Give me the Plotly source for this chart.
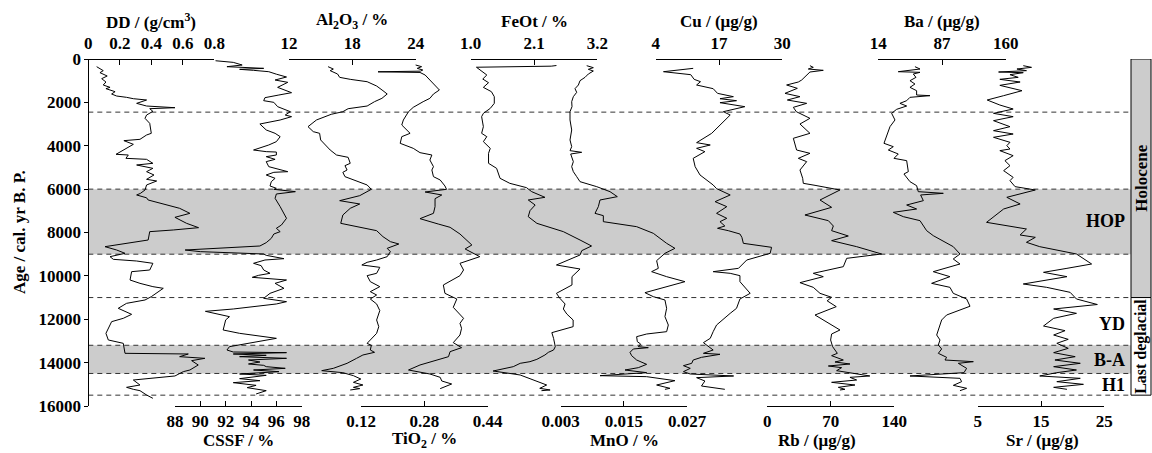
import plotly.graph_objects as go

# ---------------- data (age in cal. yr B.P., values in axis units) ----------------
dd_age = [354, 538, 630, 784, 907, 1061, 1199, 1307, 1368, 1507, 1614, 1707, 1768, 1830, 1891, 2045, 2168, 2245,
          2291, 2414, 2583, 2735, 2966, 3427, 3504, 3704, 3765, 3934, 4395, 4426, 4580, 4626, 4810, 4887, 5041,
          5195, 5348, 5548, 5625, 5809, 6040, 6200, 6270, 6400, 6501, 6732, 6885, 7116, 7300, 7577, 7777, 7884,
          7961, 8346, 8499, 8653, 8807, 8960, 9114, 9237, 9314, 9421, 9729, 9806, 10190, 10344, 10497, 10574,
          10959, 11112, 11266, 11496, 11773, 11957, 12111, 12649, 12956, 13110, 13571, 13602, 13725, 13756,
          13802, 13909, 14109, 14340, 14417, 14616, 14678, 14755, 14801, 15032, 15139, 15231, 15293, 15493, 15646]
dd_val = [0.053, 0.095, 0.074, 0.12, 0.085, 0.112, 0.095, 0.138, 0.112, 0.17, 0.148, 0.18, 0.243, 0.286, 0.37,
          0.307, 0.37, 0.55, 0.39, 0.41, 0.37, 0.36, 0.39, 0.40, 0.37, 0.328, 0.226, 0.286, 0.176, 0.254, 0.239,
          0.37, 0.41, 0.307, 0.41, 0.37, 0.417, 0.37, 0.434, 0.37, 0.36, 0.33, 0.307, 0.37, 0.38, 0.50, 0.58,
          0.645, 0.55, 0.624, 0.70, 0.54, 0.39, 0.38, 0.243, 0.106, 0.18, 0.233, 0.138, 0.159, 0.307, 0.41, 0.39,
          0.275, 0.265, 0.328, 0.41, 0.476, 0.40, 0.36, 0.243, 0.19, 0.275, 0.222, 0.148, 0.112, 0.127, 0.222,
          0.233, 0.635, 0.58, 0.667, 0.74, 0.656, 0.698, 0.645, 0.603, 0.55, 0.455, 0.328, 0.286, 0.328, 0.243,
          0.286, 0.328, 0.37, 0.41]

cssf_age = [80, 155, 277, 354, 431, 477, 523, 585, 700, 780, 830, 969, 1076, 1307, 1553, 1660, 1783, 1922, 1999,
            2198, 2429, 2583, 2659, 2812, 2997, 3273, 3427, 3581, 3811, 3965, 4196, 4272, 4290, 4426, 4503, 4626,
            4733, 4964, 5118, 5195, 5225, 5348, 5502, 5656, 5855, 5963, 6009, 6117, 6224, 6424, 6808, 7346, 7654,
            7807, 7961, 8069, 8269, 8468, 8622, 8807, 8883, 8960, 8991, 9053, 9206, 9268, 9421, 9529, 9729, 9882,
            9975, 10067, 10190, 10344, 10574, 10805, 11035, 11189, 11296, 11527, 11635, 11881, 12030, 12495, 12649,
            12880, 13264, 13418, 13510, 13540, 13602, 13663, 13725, 13802, 13879, 13971, 14063, 14125, 14186,
            14263, 14340, 14417, 14524, 14586, 14739, 14832, 14924, 15047, 15154, 15293, 15446]
cssf_val = [91.2, 92.6, 93.3, 92.1, 95.0, 93.1, 94.2, 95.4, 96.0, 96.5, 96.8, 95.9, 96.9, 96.1, 97.2, 96.2, 95.1,
            95.0, 95.8, 96.1, 97.1, 96.7, 97.2, 96.3, 94.7, 95.2, 95.9, 96.3, 96.0, 95.4, 94.2, 95.2, 96.0, 96.0,
            95.2, 95.9, 95.2, 95.4, 96.3, 96.9, 95.8, 95.2, 95.9, 95.6, 95.5, 96.0, 95.8, 97.5, 96.0, 95.9, 96.3,
            96.8, 96.4, 96.0, 96.3, 95.8, 95.6, 95.2, 94.7, 88.8, 90.0, 93.1, 95.0, 95.2, 96.6, 95.1, 94.2, 94.8,
            95.0, 95.5, 94.6, 94.1, 96.8, 95.9, 96.6, 95.5, 95.0, 96.8, 96.0, 92.6, 90.4, 92.3, 92.0, 91.8, 93.1,
            96.0, 92.3, 92.1, 92.6, 96.8, 92.6, 95.2, 93.1, 96.8, 93.8, 94.7, 93.8, 95.0, 95.2, 96.7, 94.2, 96.2,
            93.1, 95.2, 93.1, 94.7, 92.6, 94.4, 93.7, 95.2, 94.4]

al2o3_age = [354, 462, 538, 692, 846, 938, 1046, 1245, 1461, 1614, 1814, 1968, 2168, 2291, 2429, 2550, 2812, 3120,
             3350, 3427, 3734, 4196, 4426, 4534, 4810, 4918, 5118, 5225, 5425, 5579, 5809, 6009, 6163, 6301, 6532,
             6685, 6885, 7193, 7577, 7761, 7915, 8192, 8422, 8530, 8730, 8883, 9114, 9268, 9375, 9498, 9606, 9882,
             9990, 10267, 10497, 10728, 10882, 11066, 11296, 11600, 12034, 12342, 12649, 12956, 13110, 13202, 13418,
             13525, 13648, 13802, 14032, 14263, 14371, 14463, 14601, 14755, 14909, 15032, 15139, 15200, 15262]
al2o3_val = [15.7, 16.2, 15.9, 16.6, 16.8, 17.8, 19.4, 20.3, 20.9, 21.3, 20.8, 20.1, 19.4, 17.6, 17.1, 16.0, 14.6,
             13.8, 14.3, 14.9, 15.0, 15.9, 16.5, 17.6, 17.8, 17.3, 17.5, 17.1, 17.3, 18.1, 19.4, 19.8, 19.2, 18.7,
             16.8, 18.7, 17.8, 17.1, 16.9, 18.7, 20.3, 20.9, 21.6, 22.4, 21.3, 21.6, 21.3, 20.3, 19.4, 18.9, 20.6,
             20.3, 19.4, 19.7, 20.6, 19.7, 20.3, 19.7, 20.3, 20.6, 20.3, 20.5, 20.3, 19.7, 19.4, 19.8, 19.7, 20.1,
             19.0, 18.4, 17.5, 16.2, 15.1, 17.1, 18.1, 18.8, 18.1, 19.0, 18.1, 18.7, 17.8]

tio2_age = [277, 354, 431, 508, 560, 590, 620, 738, 969, 1199, 1430, 1614, 1814, 1968, 2122, 2229, 2429, 2812, 3043,
            3273, 3427, 3581, 3888, 4119, 4318, 4426, 4657, 4964, 5118, 5425, 5579, 5855, 6009, 6132, 6270, 6440,
            6808, 7116, 7362, 7608, 7761, 8069, 8576, 8760, 9114, 9421, 9729, 9990, 10420, 10805, 11066, 11450,
            11957, 12188, 12418, 12726, 13079, 13310, 13494, 13725, 13956, 14109, 14340, 14524, 14678, 14847,
            14985, 15200]
tio2_val = [0.258, 0.273, 0.262, 0.276, 0.27, 0.163, 0.269, 0.282, 0.294, 0.307, 0.318, 0.303, 0.294, 0.277, 0.261,
            0.252, 0.24, 0.227, 0.223, 0.235, 0.244, 0.223, 0.219, 0.252, 0.269, 0.299, 0.294, 0.303, 0.299, 0.303,
            0.32, 0.332, 0.336, 0.282, 0.324, 0.307, 0.307, 0.303, 0.269, 0.315, 0.345, 0.37, 0.40, 0.383, 0.42,
            0.37, 0.379, 0.37, 0.328, 0.332, 0.362, 0.353, 0.379, 0.37, 0.374, 0.37, 0.353, 0.374, 0.345, 0.341,
            0.294, 0.269, 0.24, 0.294, 0.32, 0.324, 0.349, 0.32]

feot_age = [300, 330, 380, 540, 738, 923, 1092, 1307, 1507, 1737, 2045, 2276, 2506, 2659, 3120, 3427, 3581, 3811,
            4119, 4349, 4810, 5041, 5502, 5733, 5932, 6117, 6378, 6501, 6732, 6993, 7270, 7577, 7961, 8346, 8622,
            8837, 9037, 9498, 9683, 10036, 10420, 10805, 11035, 11296, 11527, 11758, 12034, 12342, 12618, 12880,
            13264, 13418, 13525, 13648, 13848, 13956, 14032, 14186, 14340, 14386, 14570, 14801, 15032, 15185,
            15262, 15293]
feot_val = [2.49, 2.40, 1.10, 1.19, 1.28, 1.21, 1.31, 1.22, 1.36, 1.41, 1.41, 1.34, 1.22, 1.19, 1.22, 1.19, 1.28,
            1.22, 1.34, 1.31, 1.31, 1.45, 1.51, 1.68, 1.97, 2.06, 2.29, 2.00, 2.12, 2.03, 2.00, 2.15, 2.61, 2.90,
            3.10, 2.93, 2.90, 2.49, 2.90, 2.76, 2.76, 2.49, 2.55, 2.64, 2.61, 2.67, 2.78, 2.78, 2.41, 2.44, 2.47,
            2.44, 2.35, 2.29, 2.15, 2.03, 1.86, 1.74, 1.45, 1.39, 1.86, 2.09, 2.32, 2.20, 2.38, 2.23]

mno_age = [308, 400, 477, 554, 692, 846, 1000, 1199, 1368, 1537, 1737, 1968, 2198, 2429, 2812, 3273, 3734, 4042,
           4226, 4303, 4380, 4733, 4964, 5195, 5425, 5656, 5886, 6117, 6347, 6501, 6808, 7116, 7223, 7500, 7731,
           8038, 8499, 8730, 8960, 9298, 9652, 9806, 10036, 10267, 10774, 10959, 11112, 11496, 11880, 12265, 12572,
           12680, 12803, 13033, 13141, 13264, 13310, 13371, 13525, 13679, 13879, 14079, 14232, 14340, 14463, 14601,
           14647, 14832, 15032, 15185, 15231]
mno_val = [0.00794, 0.0092, 0.00825, 0.0092, 0.00825, 0.00762, 0.00667, 0.00636, 0.00572, 0.00604, 0.0054, 0.00509,
           0.00515, 0.00477, 0.00477, 0.00509, 0.00477, 0.00509, 0.00477, 0.00699, 0.0049, 0.0054, 0.00509, 0.0054,
           0.00604, 0.00667, 0.00984, 0.01237, 0.01376, 0.01047, 0.01015, 0.00952, 0.0111, 0.0111, 0.01743, 0.0206,
           0.02313, 0.02471, 0.02281, 0.02123, 0.02155, 0.02028, 0.02313, 0.02661, 0.01901, 0.0206, 0.02281,
           0.02313, 0.02281, 0.02345, 0.02313, 0.01933, 0.01743, 0.01756, 0.01819, 0.01775, 0.01965, 0.0168,
           0.01617, 0.01648, 0.01743, 0.01933, 0.01775, 0.01522, 0.01933, 0.01047, 0.01933, 0.02471, 0.02123,
           0.02376, 0.02281]

cu_age = [431, 585, 723, 938, 1046, 1199, 1368, 1584, 1737, 1830, 1922, 2014, 2198, 2429, 2583, 3043, 3427, 3857,
          3965, 4119, 4272, 4580, 4964, 5348, 5809, 5978, 6270, 6578, 6808, 7116, 7346, 7500, 7700, 7807, 7915,
          8069, 8223, 8499, 8684, 8960, 9268, 9652, 9806, 9882, 9990, 10267, 10805, 11066, 11496, 11727, 12034,
          12265, 12572, 12880, 13079, 13341, 13418, 13571, 13617, 13756, 13879, 14032, 14140, 14263, 14417, 14524,
          14616, 14693, 14847, 15078, 15231]
cu_val = [11.7, 5.6, 11.2, 11.9, 13.2, 12.4, 15.8, 16.7, 19.95, 17.2, 20.6, 17.2, 22.3, 17.9, 19.3, 17.2, 15.5, 12.4,
          15.2, 12.4, 14.1, 11.7, 12.1, 13.1, 15.8, 16.5, 19.3, 16.2, 18.6, 16.5, 18.6, 17.2, 18.2, 16.7, 18.9, 21.3,
          21.7, 22.0, 27.8, 27.5, 22.7, 21.0, 15.8, 19.3, 21.3, 21.3, 23.4, 21.3, 20.6, 19.3, 17.6, 16.5, 15.8, 15.2,
          13.8, 15.2, 15.8, 13.8, 17.2, 13.4, 11.7, 11.4, 9.7, 11.1, 9.7, 11.1, 20.0, 12.4, 14.1, 13.4, 18.2]

rb_age = [308, 385, 462, 523, 600, 754, 969, 1061, 1199, 1353, 1584, 1737, 1891, 2045, 2229, 2430, 2735, 2997, 3427,
          3657, 4196, 4349, 4580, 4733, 5118, 5502, 5733, 5825, 6040, 6501, 6839, 7193, 7454, 7700, 7915, 8161,
          8376, 8653, 8991, 9191, 9575, 9882, 10036, 10313, 10528, 10805, 10989, 11150, 11420, 11804, 12065, 12495,
          12680, 12956, 13264, 13571, 13679, 13879, 13971, 14063, 14155, 14232, 14371, 14616, 14678, 14801, 14909,
          15032, 15139, 15231, 15262]
rb_val = [47.0, 50.7, 45.2, 61.7, 47.0, 43.4, 37.9, 34.2, 21.3, 33.1, 19.5, 36.0, 22.1, 43.4, 28.7, 32.0, 47.0, 36.0,
          47.0, 28.7, 32.3, 47.0, 34.2, 43.4, 36.0, 39.0, 39.7, 52.6, 80.1, 58.1, 70.9, 41.5, 67.3, 72.8, 70.9, 89.3,
          70.9, 98.5, 126.0, 87.5, 83.8, 50.7, 61.7, 36.0, 50.7, 58.1, 70.9, 66.0, 76.0, 52.6, 63.6, 80.1, 70.9,
          69.8, 72.0, 77.2, 70.9, 83.8, 74.6, 91.1, 67.3, 81.9, 76.4, 113.0, 91.1, 98.5, 70.9, 96.6, 78.3, 85.6,
          80.1]

ba_age = [354, 462, 585, 615, 692, 846, 1000, 1153, 1307, 1461, 1660, 1691, 1768, 1922, 2045, 2168, 2321, 2505, 2812,
          3120, 3888, 4042, 4196, 4380, 4580, 4687, 5195, 5302, 5656, 5840, 6117, 6194, 6270, 6532, 6732, 6916, 7070,
          7270, 7454, 7915, 8146, 8653, 8991, 9221, 9452, 9806, 10036, 10344, 10528, 10805, 11066, 11400, 11573,
          11804, 12034, 12265, 12495, 12726, 12956, 13187, 13371, 13571, 13756, 13879, 13956, 14032, 14263, 14463,
          14616, 14724, 14878, 15047, 15185, 15293]
ba_val = [56.0, 61.8, 36.9, 61.8, 54.1, 57.2, 50.3, 56.0, 50.3, 57.9, 57.9, 73.2, 50.3, 46.5, 38.8, 46.5, 35.0, 29.3,
          33.1, 27.4, 20.5, 31.2, 25.5, 36.9, 32.0, 46.5, 48.4, 43.4, 50.3, 57.9, 59.8, 88.5, 62.5, 65.6, 46.5, 57.9,
          31.2, 42.7, 61.8, 69.4, 77.0, 99.9, 107.6, 99.9, 107.6, 77.0, 96.1, 75.1, 96.1, 99.9, 115.2, 119.1,
          107.6, 92.3, 86.6, 84.7, 82.8, 80.9, 84.7, 82.8, 86.6, 82.8, 92.3, 90.4, 122.9, 105.7, 115.2, 112.2,
          50.3, 107.6, 109.5, 100.0, 115.2, 107.6]

sr_age = [308, 385, 462, 538, 600, 630, 723, 846, 938, 1061, 1215, 1307, 1461, 1691, 1891, 2122, 2306, 2506, 2659,
          2843, 3120, 3304, 3458, 3611, 3842, 3996, 4150, 4226, 4457, 4687, 4918, 5149, 5456, 5610, 5886, 6040, 6378,
          6685, 6916, 7531, 7761, 7838, 8115, 8223, 8453, 8653, 8991, 9452, 9652, 9836, 10036, 10374, 10528, 10605,
          10759, 11066, 11320, 11527, 11727, 11957, 12311, 12526, 12726, 12926, 13110, 13341, 13540, 13725, 13879,
          14032, 14186, 14340, 14463, 14616, 14724, 14878, 15001, 15139, 15231]
sr_val = [12.2, 13.5, 11.2, 12.7, 8.3, 12.2, 10.1, 11.4, 8.5, 11.7, 8.5, 9.8, 12.0, 9.1, 6.5, 8.5, 10.6, 7.5, 10.6,
          7.5, 10.1, 7.5, 10.6, 7.5, 10.1, 9.6, 10.1, 8.5, 10.6, 9.3, 10.1, 9.1, 10.6, 10.1, 10.9, 14.1, 9.6, 11.7,
          9.1, 6.4, 10.9, 12.7, 11.7, 14.1, 12.7, 14.8, 20.6, 23.0, 19.1, 15.4, 19.1, 12.2, 15.9, 17.0, 19.6, 20.6,
          23.9, 17.0, 20.6, 17.0, 15.4, 18.8, 17.0, 19.3, 17.5, 19.3, 17.0, 20.4, 17.2, 21.2, 17.0, 20.6, 17.5,
          14.8, 21.2, 17.5, 21.7, 17.0, 19.1]

# tick labels of each axis
dd_ticks = ["0", "0.2", "0.4", "0.6", "0.8"]
cssf_ticks = ["88", "90", "92", "94", "96", "98"]
al2o3_ticks = ["12", "18", "24"]
tio2_ticks = ["0.12", "0.28", "0.44"]
feot_ticks = ["1.0", "2.1", "3.2"]
mno_ticks = ["0.003", "0.015", "0.027"]
cu_ticks = ["4", "17", "30"]
rb_ticks = ["0", "70", "140"]
ba_ticks = ["14", "87", "160"]
sr_ticks = ["5", "15", "25"]
age_ticks = [0, 2000, 4000, 6000, 8000, 10000, 12000, 14000, 16000]

# periods
shaded_periods = [(6000, 9000), (13200, 14500)]
boundary_ages = [2450, 6000, 9000, 11000, 13200, 14500, 15500]
period_labels = [("HOP", 7450), ("YD", 12200), ("B-A", 13880), ("H1", 15050)]
epochs = [("Holocene", 0, 11000, "#cccccc"), ("Last deglacial", 11000, 15500, "white")]

# ---------------- layout (pixel geometry) ----------------
W, H = 1152, 453
Y_TOP, Y_BOT = 59, 406
X_LEFT, X_RIGHT = 88.3, 1131
FONT = "Liberation Serif"


def fx(p):
    return p / W


def fy(p):
    return 1 - p / H


def b(s):
    return "<b>" + s + "</b>"


panels = [
    dict(age=dd_age, val=dd_val, ticks=dd_ticks, px=(88.3, 214.3), side="top",
         title="DD / (g/cm<sup>3</sup>)", tx=151),
    dict(age=cssf_age, val=cssf_val, ticks=cssf_ticks, px=(175, 301.7), side="bottom",
         title="CSSF / %", tx=238),
    dict(age=al2o3_age, val=al2o3_val, ticks=al2o3_ticks, px=(289, 415.7), side="top",
         title="Al<sub>2</sub>O<sub>3</sub> / %", tx=352),
    dict(age=tio2_age, val=tio2_val, ticks=tio2_ticks, px=(361, 487.7), side="bottom",
         title="TiO<sub>2</sub> / %", tx=424),
    dict(age=feot_age, val=feot_val, ticks=feot_ticks, px=(470.7, 597.3), side="top",
         title="FeOt / %", tx=534),
    dict(age=mno_age, val=mno_val, ticks=mno_ticks, px=(560.7, 687), side="bottom",
         title="MnO / %", tx=624),
    dict(age=cu_age, val=cu_val, ticks=cu_ticks, px=(655.7, 782.3), side="top",
         title="Cu / (μg/g)", tx=719),
    dict(age=rb_age, val=rb_val, ticks=rb_ticks, px=(767.3, 894.3), side="bottom",
         title="Rb / (μg/g)", tx=817),
    dict(age=ba_age, val=ba_val, ticks=ba_ticks, px=(878.3, 1005.7), side="top",
         title="Ba / (μg/g)", tx=942),
    dict(age=sr_age, val=sr_val, ticks=sr_ticks, px=(977.7, 1104.3), side="bottom",
         title="Sr / (μg/g)", tx=1042),
]

tickfont = dict(family=FONT, size=17, color="black")
fig = go.Figure()
axes = {}
annotations = []

for i, p in enumerate(panels, start=1):
    xa = "x" if i == 1 else f"x{i}"
    fig.add_trace(go.Scatter(x=p["val"], y=p["age"], mode="lines", xaxis=xa, yaxis="y",
                             line=dict(color="black", width=1), showlegend=False, hoverinfo="skip"))
    tv = [float(t) for t in p["ticks"]]
    top = p["side"] == "top"
    axes["xaxis" if i == 1 else f"xaxis{i}"] = dict(
        domain=[fx(p["px"][0]), fx(p["px"][1])], range=[tv[0], tv[-1]],
        anchor="free", position=fy(Y_TOP) if top else fy(Y_BOT), side=p["side"],
        showline=True, linecolor="black", linewidth=1, mirror=False, automargin=False,
        ticks="inside", ticklen=5, tickwidth=1, tickcolor="black",
        tickvals=tv, ticktext=[b(t) for t in p["ticks"]], tickfont=tickfont,
        ticklabelstandoff=3 if top else 0,
        showgrid=False, zeroline=False, fixedrange=True)
    annotations.append(dict(x=fx(p["tx"]), y=fy(21) if top else fy(440), xref="paper", yref="paper",
                            text=b(p["title"]), showarrow=False, xanchor="center", yanchor="middle",
                            font=dict(family=FONT, size=17, color="black")))

axes["yaxis"] = dict(domain=[fy(Y_BOT), fy(Y_TOP)], range=[16000, 0], anchor="free", position=fx(X_LEFT),
                     side="left", showline=True, linecolor="black", linewidth=1, automargin=False,
                     ticks="outside", ticklen=4, tickcolor="black", tickvals=age_ticks,
                     ticktext=[b(str(a)) for a in age_ticks], tickfont=tickfont,
                     showgrid=False, zeroline=False, fixedrange=True)

shapes = []
for a0, a1 in shaded_periods:
    shapes.append(dict(type="rect", xref="paper", yref="y", x0=fx(X_LEFT), x1=fx(X_RIGHT), y0=a0, y1=a1,
                       fillcolor="#cccccc", line=dict(width=0), layer="below"))
for bd in boundary_ages:
    shapes.append(dict(type="line", xref="paper", yref="y", x0=fx(X_LEFT), x1=fx(X_RIGHT), y0=bd, y1=bd,
                       line=dict(color="#333333", width=1, dash="5px,4px"), layer="below"))
for name, a0, a1, col in epochs:
    shapes.append(dict(type="rect", xref="paper", yref="y", x0=fx(X_RIGHT), x1=fx(1151), y0=a0, y1=a1,
                       fillcolor=col, line=dict(color="black", width=1), layer="above"))
    annotations.append(dict(x=fx(1141.5), y=(a0 + a1) / 2, xref="paper", yref="y", text=b(name),
                            textangle=-90, showarrow=False, xanchor="center", yanchor="middle",
                            font=dict(family=FONT, size=17 if a0 == 0 else 16, color="black")))

for name, a in period_labels:
    annotations.append(dict(x=fx(1127), y=a, xref="paper", yref="y", text=b(name), showarrow=False,
                            xanchor="right", yanchor="middle",
                            font=dict(family=FONT, size=18, color="black")))

annotations.append(dict(x=fx(20), y=fy(232), xref="paper", yref="paper", text=b("Age / cal. yr B. P."),
                        textangle=-90, showarrow=False, xanchor="center", yanchor="middle",
                        font=dict(family=FONT, size=17, color="black")))

fig.update_layout(template="none", width=W, height=H, margin=dict(l=0, r=0, t=0, b=0, pad=0, autoexpand=False),
                  paper_bgcolor="white", plot_bgcolor="rgba(0,0,0,0)", showlegend=False,
                  shapes=shapes, annotations=annotations,
                  font=dict(family=FONT, color="black"), **axes)

fig.write_html("out.html", config={"displayModeBar": False, "staticPlot": True},
               post_script="document.body.style.margin='0px';document.body.style.overflow='hidden';")
